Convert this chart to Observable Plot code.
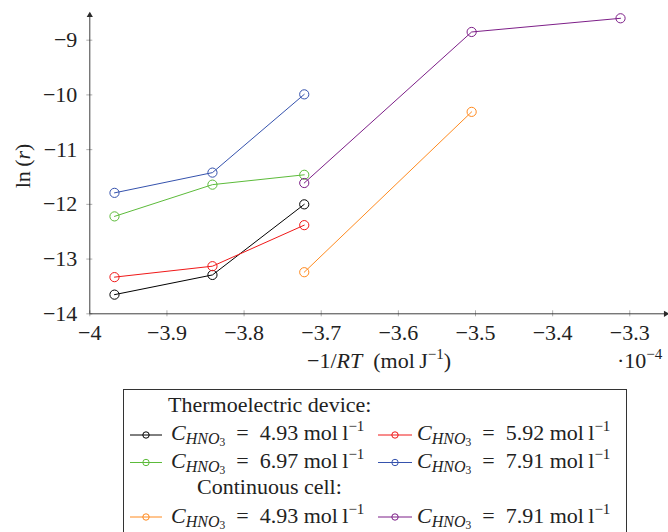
<!DOCTYPE html>
<html><head><meta charset="utf-8">
<script src="https://cdn.jsdelivr.net/npm/d3@7"></script>
<script src="https://cdn.jsdelivr.net/npm/@observablehq/plot@0.6"></script>
<style>
body{margin:0;background:#fff;}
#wrap{position:relative;width:668px;height:532px;overflow:hidden;background:#fff;}
#wrap svg{position:absolute;left:0;}
#wrap svg, #wrap svg text{font-family:'Liberation Serif', serif;}
</style></head><body><div id="wrap"></div>
<script>
// x values: -1/RT in units of 1e-4 mol/J
const xThermo = [-3.968, -3.841, -3.722];
const xContLow = [-3.722, -3.505];
const xContHigh = [-3.722, -3.505, -3.312];
// ln(r) values
const yTE493 = [-13.65, -13.29, -12.0];
const yTE592 = [-13.33, -13.13, -12.38];
const yTE697 = [-12.22, -11.64, -11.46];
const yTE791 = [-11.79, -11.42, -9.99];
const yCC493 = [-13.24, -10.31];
const yCC791 = [-11.61, -8.85, -8.60];

const xTicks = [-4, -3.9, -3.8, -3.7, -3.6, -3.5, -3.4, -3.3];
const yTicks = [-14, -13, -12, -11, -10, -9];
const xDomain = [-4, -3.2515];
const yDomain = [-14, -8.518];

const series = [
  {group: "te", conc: "4.93", color: "#000000", x: xThermo, y: yTE493},
  {group: "te", conc: "5.92", color: "#f01818", x: xThermo, y: yTE592},
  {group: "te", conc: "6.97", color: "#5cbb3a", x: xThermo, y: yTE697},
  {group: "te", conc: "7.91", color: "#3552ad", x: xThermo, y: yTE791},
  {group: "cc", conc: "4.93", color: "#ff8a1e", x: xContLow, y: yCC493},
  {group: "cc", conc: "7.91", color: "#7d1f88", x: xContHigh, y: yCC791}
];
const seriesMarks = series.flatMap(s => {
  const pts = s.x.map((x, i) => ({x, y: s.y[i]}));
  return [
    Plot.line(pts, {x: "x", y: "y", stroke: s.color, strokeWidth: 1}),
    Plot.dot(pts, {x: "x", y: "y", stroke: s.color, fill: "none", r: 4.6, strokeWidth: 1})
  ];
});

const FS = 22;
const axisColor = "#2a2a2a";
const plot = Plot.plot({
  width: 668, height: 380,
  marginLeft: 89.3, marginRight: 1.3, marginTop: 13.3, marginBottom: 66.7,
  style: `font-family: 'Liberation Serif', serif; font-size: ${FS}px; background: white; color: #222;`,
  x: {domain: xDomain},
  y: {domain: yDomain},
  marks: [
    Plot.ruleX(xTicks, {y1: yDomain[0], y2: yDomain[0], insetTop: -3, insetBottom: -3, stroke: "#9a9a9a", strokeWidth: 0.8}),
    Plot.ruleY(yTicks, {x1: xDomain[0], x2: xDomain[0], insetLeft: -3, insetRight: -3, stroke: "#9a9a9a", strokeWidth: 0.8}),
    Plot.ruleY([yDomain[0]], {stroke: axisColor, strokeWidth: 0.9}),
    Plot.ruleX([xDomain[0]], {stroke: axisColor, strokeWidth: 0.9}),
    Plot.dot([0], {x: xDomain[1], y: yDomain[0], symbol: "triangle", rotate: 90, r: 2.3, fill: axisColor, stroke: "none", dx: -1.5}),
    Plot.dot([0], {x: xDomain[0], y: yDomain[1], symbol: "triangle", r: 2.3, fill: axisColor, stroke: "none", dy: 1.5}),
    Plot.axisX({ticks: xTicks, tickSize: 0, tickPadding: 11, label: null, tickFormat: d => d3.format("~g")(d), fill: "#222", fontSize: FS}),
    Plot.axisY({ticks: yTicks, tickSize: 0, tickPadding: 12.5, label: null, tickFormat: d => d3.format("~g")(d), fill: "#222", fontSize: FS}),
    ...seriesMarks
  ]
});
plot.style.top = "0px";
document.getElementById("wrap").appendChild(plot);

const svg = d3.select(plot);
// x label
const xl = svg.append("text").attr("x", 379).attr("y", 368).attr("text-anchor", "middle")
  .style("font-size", FS + "px").attr("fill", "#222");
xl.append("tspan").text("\u22121/");
xl.append("tspan").attr("font-style", "italic").text("RT");
xl.append("tspan").text("\u2002(mol\u2009J");
xl.append("tspan").style("font-size", "15px").attr("dy", -9).text("\u22121");
xl.append("tspan").attr("dy", 9).text(")");
// multiplier
const ml = svg.append("text").attr("x", 617).attr("y", 368).attr("text-anchor", "start")
  .style("font-size", FS + "px").attr("fill", "#222");
ml.append("tspan").text("\u00b710");
ml.append("tspan").style("font-size", "15px").attr("dy", -9).text("\u22124");
// y label
const yl = svg.append("text").attr("transform", "translate(30,166) rotate(-90)").attr("text-anchor", "middle")
  .style("font-size", FS + "px").attr("fill", "#222");
yl.append("tspan").text("ln\u2009(");
yl.append("tspan").attr("font-style", "italic").text("r");
yl.append("tspan").text(")");

// legend
const top0 = 380;
const leg = d3.select("#wrap").append("svg").attr("width", 668).attr("height", 152)
  .style("top", top0 + "px").style("font-size", FS + "px").attr("fill", "#222").attr("text-anchor", "start");
leg.append("rect").attr("x", 123.5).attr("y", 389.5 - top0).attr("width", 503).attr("height", 200)
  .attr("fill", "white").attr("stroke", "#333").attr("stroke-width", 1);

function mathText(x, y, conc) {
  const t = leg.append("text").attr("x", x).attr("y", y);
  t.append("tspan").attr("font-style", "italic").text("C");
  t.append("tspan").attr("font-style", "italic").style("font-size", "16px").attr("dy", 3.5).text("HNO");
  t.append("tspan").style("font-size", "11.5px").attr("dy", 2).text("3");
  t.append("tspan").attr("dy", -5.5).text("\u2002=\u2002" + conc + " mol\u2009l");
  t.append("tspan").style("font-size", "15px").attr("dy", -9).text("\u22121");
}
function swatch(x0, x1, cy, color) {
  leg.append("line").attr("x1", x0).attr("x2", x1).attr("y1", cy).attr("y2", cy)
    .attr("stroke", color).attr("stroke-width", 1);
  leg.append("circle").attr("cx", (x0 + x1) / 2).attr("cy", cy).attr("r", 3.2)
    .attr("fill", "none").attr("stroke", color).attr("stroke-width", 1);
}
leg.append("text").attr("x", 168).attr("y", 412 - top0).text("Thermoelectric device:");
leg.append("text").attr("x", 197).attr("y", 494 - top0).text("Continuous cell:");
const cols = [{l0: 130, l1: 162, tx: 171}, {l0: 378, l1: 412, tx: 417}];
const rowsPos = {te: [{cy: 435, base: 440}, {cy: 462.5, base: 468}], cc: [{cy: 517, base: 523}]};
const teS = series.filter(s => s.group === "te");
const ccS = series.filter(s => s.group === "cc");
teS.forEach((s, i) => {
  const r = rowsPos.te[Math.floor(i / 2)], c = cols[i % 2];
  swatch(c.l0, c.l1, r.cy - top0, s.color);
  mathText(c.tx, r.base - top0, s.conc);
});
ccS.forEach((s, i) => {
  const r = rowsPos.cc[0], c = cols[i % 2];
  swatch(c.l0, c.l1, r.cy - top0, s.color);
  mathText(c.tx, r.base - top0, s.conc);
});
</script></body></html>
